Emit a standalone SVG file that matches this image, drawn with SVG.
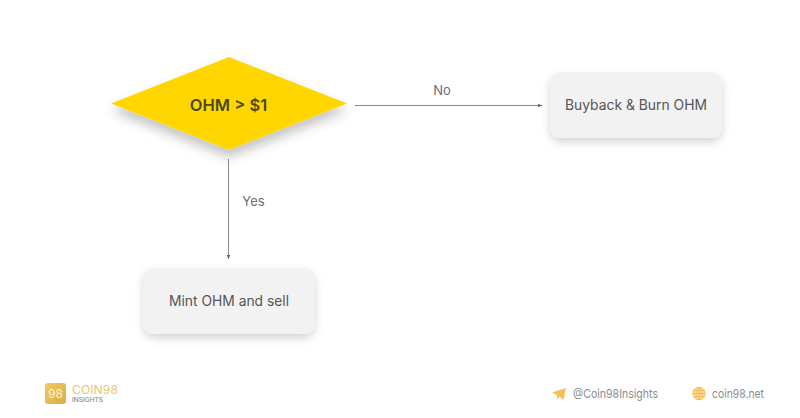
<svg xmlns="http://www.w3.org/2000/svg" width="800" height="418" viewBox="0 0 800 418">
<defs>
<style>
text{font-family:"Inter","Liberation Sans",sans-serif}
.box{fill:#f2f2f2;filter:url(#sh)}
.lbl{font-size:14px;fill:#555;text-anchor:middle}
.edge{font-size:13px;fill:#6e6e6e;text-anchor:middle}
.conn{stroke:#8a8a8a;stroke-width:1;fill:none;marker-end:url(#arr)}
.foot{font-size:12px;fill:#8c8c8c}
</style>
<filter id="sh" x="-20%" y="-30%" width="140%" height="170%"><feDropShadow dx="0" dy="4" stdDeviation="4" flood-color="#000" flood-opacity=".17"/></filter>
<filter id="sd" x="-20%" y="-30%" width="140%" height="180%"><feDropShadow dx="0" dy="7" stdDeviation="6" flood-color="#000" flood-opacity=".24"/></filter>
<marker id="arr" markerUnits="userSpaceOnUse" markerWidth="5" markerHeight="5" refX="4" refY="2.500" orient="auto"><path d="M0 .7L4 2.500L0 4.300z" fill="#666"/></marker>
<linearGradient id="gold" x1="0" y1="0" x2="1" y2="1"><stop offset="0" stop-color="#eeca68"/><stop offset="1" stop-color="#d9ae44"/></linearGradient>
</defs>
<rect width="800" height="418" fill="#fff"/>
<g id="connectors">
<path class="conn" d="M355 105.500H542"/>
<path class="conn" d="M228.500 159V259"/>
<text class="edge" x="442" y="95">No</text>
<text class="edge" x="253.500" y="206">Yes</text>
</g>
<g id="node-decision">
<polygon points="111,103.500 229,57 347,103.500 229,150" fill="#ffd600" filter="url(#sd)"/>
<text x="228.500" y="110.500" font-size="16.500" font-weight="600" fill="#4a4a1e" text-anchor="middle">OHM &gt; $1</text>
</g>
<g id="node-buyback">
<rect class="box" x="550" y="72" width="172" height="66" rx="11"/>
<text class="lbl" x="636" y="110" textLength="142" lengthAdjust="spacingAndGlyphs">Buyback &amp; Burn OHM</text>
</g>
<g id="node-mint">
<rect class="box" x="143" y="268" width="172" height="66" rx="11"/>
<text class="lbl" x="229" y="306" textLength="120" lengthAdjust="spacingAndGlyphs">Mint OHM and sell</text>
</g>
<g id="footer-logo">
<rect x="45" y="383" width="21" height="21" rx="3" fill="url(#gold)"/>
<text x="55.500" y="398" font-size="12" font-weight="400" fill="#fbf0cf" text-anchor="middle">98</text>
<text x="72" y="394" font-size="11.500" font-weight="400" fill="#e8c66e" textLength="46" lengthAdjust="spacingAndGlyphs">COIN98</text>
<text x="72" y="401.500" font-size="6" font-weight="500" fill="#8a8a8a" textLength="31" lengthAdjust="spacingAndGlyphs">INSIGHTS</text>
</g>
<g id="footer-telegram">
<path d="M552 392.500L566 388L563.500 400L559.500 396.500L557 399.500V395z" fill="#f6bd55"/>
<text class="foot" x="573" y="398" textLength="85" lengthAdjust="spacingAndGlyphs">@Coin98Insights</text>
</g>
<g id="footer-web">
<circle cx="699" cy="393.500" r="6.300" fill="#fcdf9f" stroke="#f5c160" stroke-width="1"/>
<path d="M693 393.500H705M694 390.500H704M694 396.500H704M699 387.500V399.500M699 387.500C695 390.500 695 396.500 699 399.500M699 387.500C703 390.500 703 396.500 699 399.500" fill="none" stroke="#f0b040" stroke-width=".7"/>
<text class="foot" x="712" y="398" textLength="52" lengthAdjust="spacingAndGlyphs">coin98.net</text>
</g>
</svg>
